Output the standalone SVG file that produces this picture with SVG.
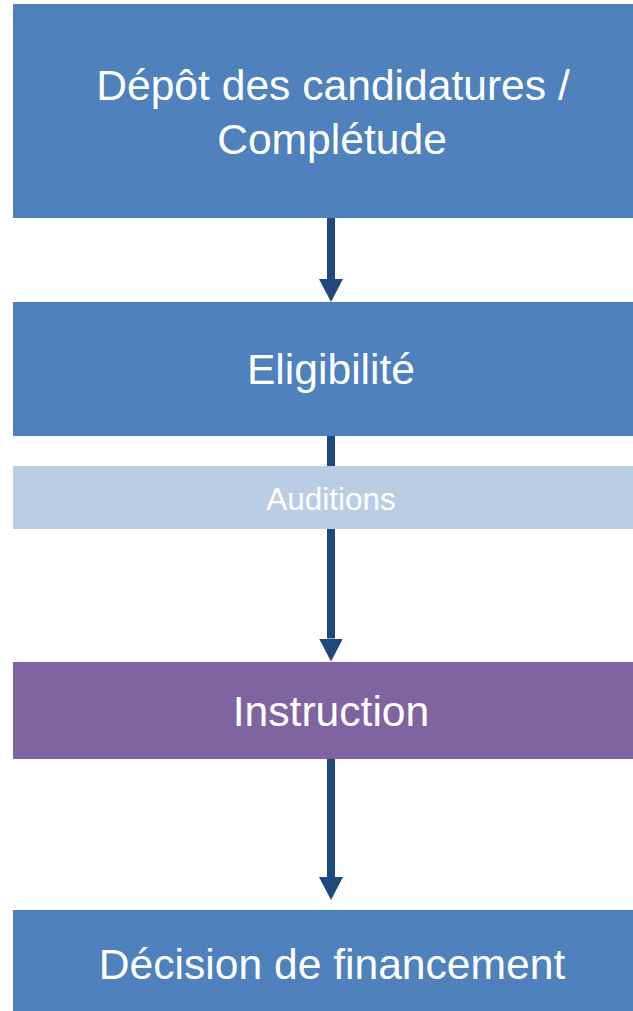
<svg xmlns="http://www.w3.org/2000/svg" width="633" height="1011" viewBox="0 0 633 1011">
  <style>
    .box { fill: #4F81BD; }
    .light { fill: #B9CDE5; }
    .purple { fill: #8064A2; }
    .lbl { font-family: "Liberation Sans", Arial, sans-serif; fill: #FFFFFF; text-anchor: middle; font-size: 42.6px; }
    .small { font-size: 31.5px; }
    .conn { stroke: #1F497D; stroke-width: 8; fill: none; marker-end: url(#head); }
  </style>
  <defs>
    <marker id="head" markerUnits="userSpaceOnUse" markerWidth="23" markerHeight="24" viewBox="0 0 23 24" refX="0" refY="12" orient="auto">
      <path d="M0,0 L23,12 L0,24 Z" fill="#1F497D"/>
    </marker>
  </defs>
  <rect x="0" y="0" width="633" height="1011" fill="#FFFFFF"/>
  <g id="connectors">
    <line class="conn" x1="331" y1="218" x2="331" y2="279"/>
    <line class="conn" x1="331" y1="436" x2="331" y2="638.5"/>
    <line class="conn" x1="331" y1="759" x2="331" y2="877"/>
  </g>
  <g id="node-depot">
    <rect class="box" x="13" y="4" width="640" height="214"/>
    <text class="lbl" x="333" y="100">Dépôt des candidatures /</text>
    <text class="lbl" x="332" y="154">Complétude</text>
  </g>
  <g id="node-eligibilite">
    <rect class="box" x="13" y="302" width="640" height="134"/>
    <text class="lbl" x="331" y="384">Eligibilité</text>
  </g>
  <g id="node-auditions">
    <rect class="light" x="13" y="466" width="640" height="63"/>
    <text class="lbl small" x="331" y="509.5">Auditions</text>
  </g>
  <g id="node-instruction">
    <rect class="purple" x="13" y="662" width="640" height="97"/>
    <text class="lbl" x="331" y="726">Instruction</text>
  </g>
  <g id="node-decision">
    <rect class="box" x="13" y="910" width="640" height="110"/>
    <text class="lbl" x="332" y="979">Décision de financement</text>
  </g>
</svg>
